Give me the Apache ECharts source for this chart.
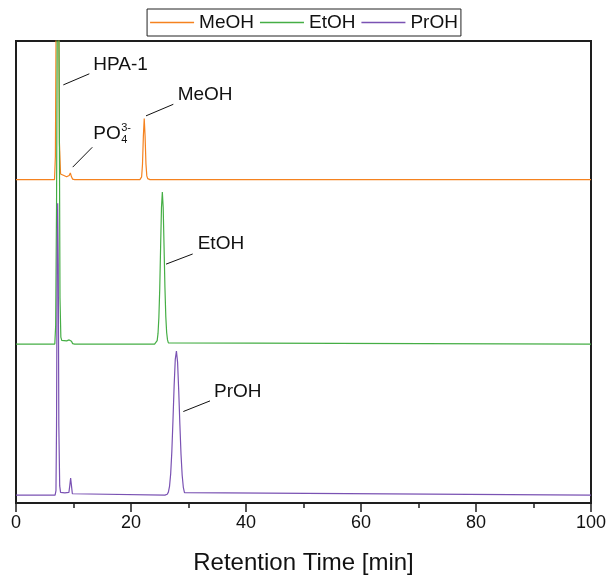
<!DOCTYPE html>
<html>
<head>
<meta charset="utf-8">
<script src="https://cdn.jsdelivr.net/npm/echarts@6/dist/echarts.min.js"></script>
<style>
  html, body { margin: 0; padding: 0; background: #fff; }
  #chart { width: 608px; height: 575px; }
</style>
</head>
<body>
<div id="chart"></div>
<script>
// Chromatograms of HPA-1 reaction mixtures in three alcohols.
// Signals are relative to each trace's own baseline; traces are stacked by offset.
const seriesNames = ['MeOH', 'EtOH', 'PrOH'];
const seriesColors = ['#F5821F', '#45AE45', '#7A52B3'];
const traceOffsets = [70.0, 34.4, 1.7];

const timeMeOH = [0, 6.7, 6.85, 7.0, 7.1, 7.25, 7.4, 7.55, 7.75, 7.95, 8.8, 9.25, 9.45, 9.65, 9.85, 10.2,
  21.55, 21.7, 21.85, 22.0, 22.15, 22.3, 22.45, 22.6, 22.75, 22.9, 23.05, 23.3, 100];
const signalMeOH = [0, 0, 5, 40, 90, 90, 45, 8, 1.2, 0.8, 0.6, 0.9, 1.45, 0.6, 0.1, 0,
  0, 0.1, 0.6, 3.3, 9.4, 13.2, 9.4, 3.4, 0.8, 0.2, 0.05, 0, 0];

const timeEtOH = [0, 6.75, 6.9, 7.05, 7.2, 7.35, 7.5, 7.65, 7.8, 7.95, 8.8, 9.25, 9.45, 9.65, 9.85, 10.2,
  24.1, 24.25, 24.4, 24.55, 24.7, 24.85, 25.0, 25.15, 25.3, 25.45, 25.6, 25.75, 25.9, 26.05, 26.2, 26.35, 26.5, 26.7, 100];
const signalEtOH = [0, 0, 4, 30, 75, 95, 60, 10, 1.5, 0.8, 0.7, 0.9, 1.25, 0.6, 0.1, 0,
  0, 0.05, 0.2, 0.75, 2.3, 5.8, 12.0, 21.0, 29.5, 32.9, 29.5, 21.0, 12.3, 6.0, 2.5, 0.9, 0.25, 0.05, 0];

const timePrOH = [0, 6.8, 6.95, 7.05, 7.15, 7.25, 7.35, 7.45, 7.6, 7.75, 8.5, 9.2, 9.35, 9.5, 9.65, 9.8, 10.0,
  25.9, 26.1, 26.3, 26.5, 26.7, 26.9, 27.1, 27.3, 27.5, 27.7, 27.9, 28.1, 28.3, 28.5, 28.7, 28.9, 29.1, 29.3, 29.5, 100];
const signalPrOH = [0, 0, 1, 15, 50, 63.2, 50, 15, 2, 0.6, 0.5, 0.6, 2.0, 3.7, 2.0, 0.3, 0,
  0, 0.05, 0.2, 0.65, 1.9, 4.6, 9.4, 16.2, 23.6, 29.4, 31.2, 28.8, 22.6, 15.3, 8.8, 4.3, 1.7, 0.55, 0.15, 0];

const traceTimes = [timeMeOH, timeEtOH, timePrOH];
const traceSignals = [signalMeOH, signalEtOH, signalPrOH];

const xTicks = [0, 20, 40, 60, 80, 100];

// Peak labels in data coordinates: leader line from (t0,y0) to (t1,y1), text at (tx,ty).
const peakLabels = [
  { text: 'HPA-1', t0: 8.23, y0: 90.5, t1: 12.75, y1: 92.9, tx: 13.44, ty: 94.8 },
  { text: 'PO', sub: '4', sup: '3-', t0: 9.86, y0: 72.7, t1: 13.27, y1: 77.0, tx: 13.44, ty: 80.0 },
  { text: 'MeOH', t0: 22.61, y0: 83.8, t1: 27.36, y1: 86.3, tx: 28.12, ty: 88.3 },
  { text: 'EtOH', t0: 26.09, y0: 51.7, t1: 30.73, y1: 53.9, tx: 31.6, ty: 56.1 },
  { text: 'PrOH', t0: 29.1, y0: 19.8, t1: 33.74, y1: 22.1, tx: 34.43, ty: 24.0 }
];

const FONT = '"Liberation Sans", Arial, Helvetica, sans-serif';

const chart = echarts.init(document.getElementById('chart'), null, { renderer: 'canvas' });

const series = seriesNames.map((name, i) => ({
  name: name,
  type: 'line',
  symbol: 'none',
  clip: true,
  z: 2 + i,
  lineStyle: { color: seriesColors[i], width: 1.2 },
  itemStyle: { color: seriesColors[i] },
  data: traceTimes[i].map((t, k) => [t, traceSignals[i][k] + traceOffsets[i]])
}));

chart.setOption({
  animation: false,
  backgroundColor: '#fff',
  legend: {
    data: seriesNames,
    top: 9,
    left: 'center',
    padding: [4, 3, 4, 3],
    borderColor: '#222',
    borderWidth: 1,
    icon: 'rect',
    itemWidth: 44,
    itemHeight: 1.3,
    itemGap: 6,
    textStyle: { fontFamily: FONT, fontSize: 19, color: '#111' }
  },
  grid: {
    left: 16, right: 17, top: 41, bottom: 72,
    containLabel: false,
    outerBoundsMode: 'none',
    show: true, borderColor: '#1e1e1e', borderWidth: 2, backgroundColor: 'transparent'
  },
  xAxis: {
    type: 'value',
    min: xTicks[0],
    max: xTicks[xTicks.length - 1],
    interval: xTicks[1] - xTicks[0],
    name: 'Retention Time [min]',
    nameLocation: 'middle',
    nameGap: 48,
    nameTextStyle: { fontFamily: FONT, fontSize: 24, color: '#111' },
    axisLine: { show: true, lineStyle: { color: '#1e1e1e', width: 2 } },
    axisTick: { show: true, inside: false, length: 9, lineStyle: { color: '#1e1e1e', width: 1.5 } },
    minorTick: { show: true, splitNumber: 2, length: 5, lineStyle: { color: '#1e1e1e', width: 1.5 } },
    axisLabel: { fontFamily: FONT, fontSize: 18, color: '#111', margin: 11 },
    splitLine: { show: false }
  },
  yAxis: {
    type: 'value',
    min: 0,
    max: 100,
    axisLine: { show: true, lineStyle: { color: '#1e1e1e', width: 2 } },
    axisTick: { show: false },
    axisLabel: { show: false },
    splitLine: { show: false }
  },
  series: series
});

// Peak annotations, placed through the axes' own coordinate conversion.
function textWidth(str, size) {
  const ctx = document.createElement('canvas').getContext('2d');
  ctx.font = size + 'px ' + FONT;
  return ctx.measureText(str).width;
}

const graphics = [];
peakLabels.forEach(lab => {
  const p0 = chart.convertToPixel({ gridIndex: 0 }, [lab.t0, lab.y0]);
  const p1 = chart.convertToPixel({ gridIndex: 0 }, [lab.t1, lab.y1]);
  const pt = chart.convertToPixel({ gridIndex: 0 }, [lab.tx, lab.ty]);
  graphics.push({
    type: 'line', silent: true, z: 10,
    shape: { x1: p0[0], y1: p0[1], x2: p1[0], y2: p1[1] },
    style: { stroke: '#111', lineWidth: 1 }
  });
  graphics.push({
    type: 'text', silent: true, z: 10, x: pt[0], y: pt[1],
    style: { text: lab.text, fill: '#111', font: '19px ' + FONT, verticalAlign: 'middle', align: 'left' }
  });
  if (lab.sub || lab.sup) {
    const w = textWidth(lab.text, 19);
    if (lab.sup) {
      graphics.push({
        type: 'text', silent: true, z: 10, x: pt[0] + w + 0.5, y: pt[1] - 5.5,
        style: { text: lab.sup, fill: '#111', font: '11px ' + FONT, verticalAlign: 'middle', align: 'left' }
      });
    }
    if (lab.sub) {
      graphics.push({
        type: 'text', silent: true, z: 10, x: pt[0] + w + 0.5, y: pt[1] + 6.5,
        style: { text: lab.sub, fill: '#111', font: '11px ' + FONT, verticalAlign: 'middle', align: 'left' }
      });
    }
  }
});
chart.setOption({ graphic: graphics });
</script>
</body>
</html>
